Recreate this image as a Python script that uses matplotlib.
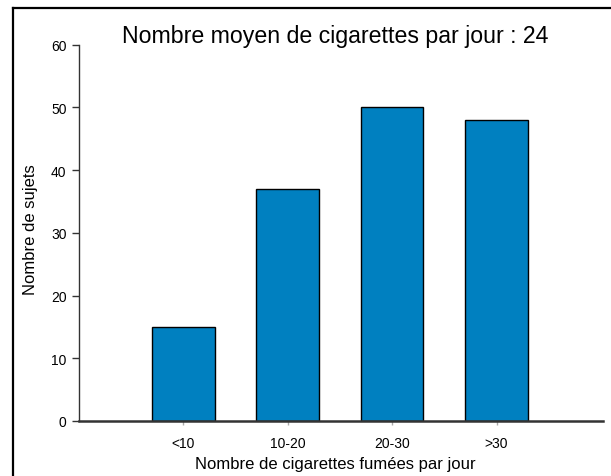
import matplotlib
matplotlib.use('Agg')
import matplotlib.pyplot as plt
from matplotlib.lines import Line2D

plt.rcParams['font.family'] = ['Liberation Sans', 'DejaVu Sans']

categories = ['<10', '10-20', '20-30', '>30']
counts = [15, 37, 50, 48]
y_ticks = [0, 10, 20, 30, 40, 50, 60]

W, H = 611, 477
fig = plt.figure(figsize=(W / 100, H / 100), dpi=100)
ax = fig.add_axes([79 / W, (H - 422) / H, (603 - 79) / W, (422 - 45.7) / H])

x = list(range(1, len(categories) + 1))
ax.bar(x, counts, width=0.6, color='#0080C0', edgecolor='black', linewidth=1.0)

ax.set_xlim(0, 5.02)
ax.set_ylim(0, 60)
ax.set_xticks(x)
ax.set_xticklabels(categories, fontsize=10)
ax.set_yticks(y_ticks)
ax.set_yticklabels([str(v) for v in y_ticks], fontsize=10)
ax.tick_params(axis='y', length=5, width=1, color='#333333', pad=4)
ax.tick_params(axis='x', length=3, width=1, color='#aaaaaa', pad=8)

for side in ('top', 'right'):
    ax.spines[side].set_visible(False)
ax.spines['left'].set_color('#333333')
ax.spines['left'].set_linewidth(1.0)
ax.spines['bottom'].set_color('#333333')
ax.spines['bottom'].set_linewidth(1.8)

ax.set_ylabel('Nombre de sujets', fontsize=12)
ax.yaxis.set_label_coords((30 - 79) / 524, (422 - 230) / 376.3)
ax.set_xlabel('Nombre de cigarettes fumées par jour', fontsize=12)
ax.xaxis.set_label_coords((335 - 79) / 524, (422 - 465) / 376.3)
ax.xaxis.label.set_va('center')
ax.yaxis.label.set_va('center')

fig.text(335 / W, 1 - 36 / H, 'Nombre moyen de cigarettes par jour : 24',
         ha='center', va='center', fontsize=16.7)

# black frame round the figure (only left and top remain in the crop)
fig.add_artist(Line2D([13 / W, 13 / W], [0, 1 - 9 / H], transform=fig.transFigure,
                      color='black', linewidth=1.6))
fig.add_artist(Line2D([13 / W, 1], [1 - 9 / H, 1 - 9 / H], transform=fig.transFigure,
                      color='black', linewidth=1.6))

fig.savefig('out.png', dpi=100)
